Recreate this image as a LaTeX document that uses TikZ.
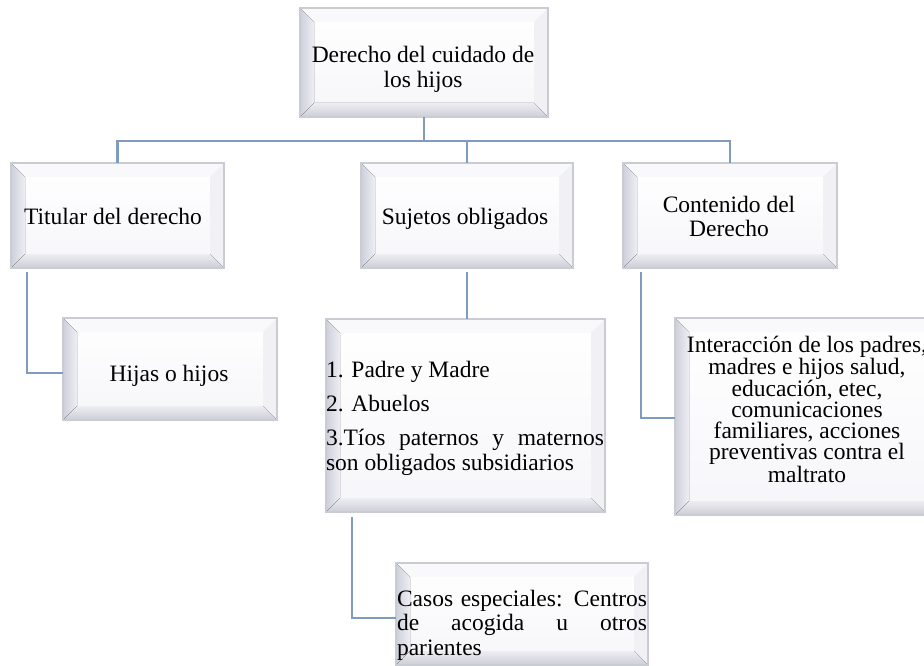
\documentclass[tikz,border=0pt]{standalone}
\usepackage{fontspec}
\setmainfont{Liberation Serif}
\definecolor{lnk}{HTML}{7F9BBD}
\definecolor{bord}{HTML}{C9CCD3}
\definecolor{faceT}{HTML}{FFFFFF}
\definecolor{faceB}{HTML}{F6F6FA}
\definecolor{bevLa}{HTML}{CFCFDB}
\definecolor{bevLb}{HTML}{EEEEF4}
\definecolor{bevBa}{HTML}{EDEDF2}
\definecolor{bevBb}{HTML}{CDCED6}
\definecolor{bevT}{HTML}{F9F9FC}
\definecolor{bevR}{HTML}{F1F1F5}
\newcommand\cbox[2]{\vtop{\hsize=#1\parindent=0pt\centering #2\par}}
\newcommand\lbox[2]{\vtop{\hsize=#1\parindent=0pt\raggedright #2\par}}
\tikzset{
  bevelbox/.style={rectangle, inner sep=0pt, outer sep=0pt, draw=bord, line width=1.4pt,
    path picture={
      \path (path picture bounding box.north west) coordinate (pNW)
            (path picture bounding box.north east) coordinate (pNE)
            (path picture bounding box.south west) coordinate (pSW)
            (path picture bounding box.south east) coordinate (pSE);
      \fill[top color=faceT, bottom color=faceB] (pNW) rectangle (pSE);
      \fill[bevT] (pNW) -- (pNE) -- ([xshift=-14pt,yshift=-14pt]pNE) -- ([xshift=14pt,yshift=-14pt]pNW) -- cycle;
      \fill[bevR] (pNE) -- (pSE) -- ([xshift=-14pt,yshift=14pt]pSE) -- ([xshift=-14pt,yshift=-14pt]pNE) -- cycle;
      \fill[left color=bevLa, right color=bevLb] (pNW) -- (pSW) -- ([xshift=14pt,yshift=14pt]pSW) -- ([xshift=14pt,yshift=-14pt]pNW) -- cycle;
      \fill[top color=bevBa, bottom color=bevBb] (pSW) -- (pSE) -- ([xshift=-14pt,yshift=14pt]pSE) -- ([xshift=14pt,yshift=14pt]pSW) -- cycle;
    }},
  link/.style={draw=lnk, line width=2.2pt},
  txt/.style={inner sep=0pt, outer sep=0pt, font=\fontsize{23.5}{24.5}\selectfont}
}
\begin{document}
\begin{tikzpicture}[x=1pt,y=-1pt]
\useasboundingbox (0,0) rectangle (924,666);
\fill[white] (0,0) rectangle (924,666);
\begin{scope}
\clip (0,0) rectangle (924,666);
% boxes
\node[bevelbox, minimum width=248pt, minimum height=109pt] (A) at (424,62.5) {};
\node[bevelbox, minimum width=213pt, minimum height=105pt] (B) at (117.5,215.5) {};
\node[bevelbox, minimum width=212pt, minimum height=105pt] (C) at (467,215.5) {};
\node[bevelbox, minimum width=214pt, minimum height=105pt] (D) at (730,215.5) {};
\node[bevelbox, minimum width=214pt, minimum height=102pt] (E) at (170,369) {};
\node[bevelbox, minimum width=279pt, minimum height=193pt] (F) at (465.5,415.5) {};
\node[bevelbox, minimum width=265pt, minimum height=197pt] (G) at (807.5,416.5) {};
\node[bevelbox, minimum width=252pt, minimum height=102pt] (H) at (522,614) {};
% connectors
\coordinate (bus) at ([yshift=-24pt]A.south);
\draw[link] (A.south) -- (bus);
\draw[link] (B.north) |- (bus) -| (D.north);
\draw[link] (C.north) -- (C.north |- bus);
\draw[link] ([xshift=16pt,yshift=-4pt]B.south west) |- ([yshift=-4pt]E.west);
\draw[link] ([yshift=-4pt]C.south) -- (C.south |- F.north);
\draw[link] ([xshift=18pt,yshift=-4pt]D.south west) |- ([yshift=-1.5pt]G.west);
\draw[link] ([xshift=26pt,yshift=-5pt]F.south west) |- ([yshift=-4pt]H.west);
% texts
\node[txt, anchor=base] (tA) at (423,63) {\cbox{260pt}{Derecho del cuidado de\\los hijos}};
\node[txt, anchor=base] (tB) at (113,224) {Titular del derecho};
\node[txt, anchor=base] (tC) at (465,224) {Sujetos obligados};
\node[txt, anchor=base] (tD) at (729,212) {\cbox{200pt}{Contenido del\\Derecho}};
\node[txt, anchor=base] (tE) at (169,381) {Hijas o hijos};
\node[txt, anchor=base west] (tF) at (326,377) {\lbox{278pt}{1. Padre y Madre\par\vskip10pt
2. Abuelos\par\vskip9.5pt
\makebox[278pt][s]{3.Tíos paternos y maternos}\\son obligados subsidiarios}};
\node[txt, anchor=base] (tG) at (807,352) {\cbox{280pt}{\fontsize{23.5}{21.1}\selectfont Interacción de los padres,\\madres e hijos salud,\\educación, etec,\\comunicaciones\\familiares, acciones\\preventivas contra el\\maltrato}};
\node[txt, anchor=base west] (tH) at (397,606) {\lbox{250pt}{\makebox[250pt][s]{Casos especiales: Centros}\\\makebox[250pt][s]{de acogida u otros}\\parientes}};
\end{scope}
\end{tikzpicture}
\end{document}
